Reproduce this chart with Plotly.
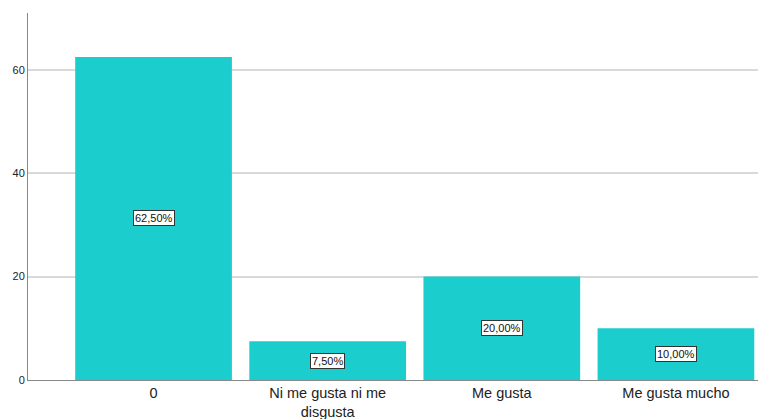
import plotly.graph_objects as go

categories = ["0", "Ni me gusta ni me<br>disgusta", "Me gusta", "Me gusta mucho"]
values = [62.5, 7.5, 20.0, 10.0]
labels = ["62,50%", "7,50%", "20,00%", "10,00%"]

fig = go.Figure()
fig.add_trace(go.Bar(x=categories, y=values, marker=dict(color="#1ccdcd", line=dict(width=0)),
                     hoverinfo="skip"))

for c, v, t in zip(categories, values, labels):
    fig.add_annotation(x=c, y=v / 2, text=t, showarrow=False,
                       font=dict(family="Liberation Sans, Arial", size=11, color="#111"),
                       bgcolor="white", bordercolor="#333", borderwidth=1, borderpad=1)

# page body has an 8px default margin, so the figure is sized/offset to compensate
fig.update_layout(
    width=758, height=411,
    margin=dict(l=20, r=3, t=5, b=39, autoexpand=False),
    plot_bgcolor="white", paper_bgcolor="white",
    bargap=0.1,
    showlegend=False,
    font=dict(family="Liberation Sans, Arial", color="#333"),
)
fig.update_xaxes(type="category", range=[-0.721, 3.5], showline=True, linecolor="#888",
                 linewidth=1, ticks="", tickfont=dict(size=14.5, color="#222"), showgrid=False,
                 automargin=False, ticklabelstandoff=0)
fig.update_yaxes(range=[0, 71], tickvals=[0, 20, 40, 60], showline=True, linecolor="#888",
                 linewidth=1, showgrid=True, gridcolor="#d9d9d9", gridwidth=1.5,
                 zeroline=False, ticks="", tickfont=dict(size=11, color="#222"),
                 automargin=False)

fig.write_html("out.html")
